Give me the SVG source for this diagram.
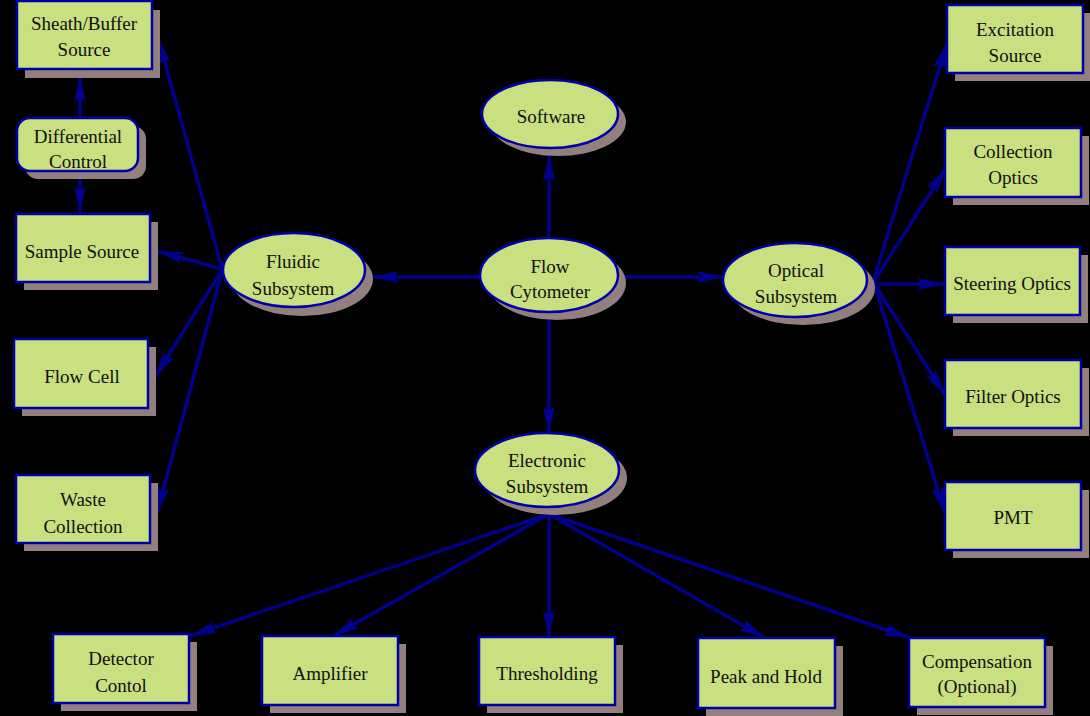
<svg xmlns="http://www.w3.org/2000/svg" width="1090" height="716" viewBox="0 0 1090 716">
<defs>
<style>
.bg{fill:#000}
.sh{fill:#947f7f}
.bx{fill:#c8e080;stroke:#0000a8;stroke-width:2.5}
.t{font-family:"Liberation Serif","Times New Roman",serif;font-size:19px;fill:#111;text-anchor:middle}
.e{stroke:#00008c;stroke-width:3.5;fill:none;marker-end:url(#ah)}
</style>
<marker id="ah" viewBox="0 0 26 13" refX="26" refY="6.5" markerWidth="26" markerHeight="13" markerUnits="userSpaceOnUse" orient="auto">
<path d="M0,0.5 L26,6.5 L0,12.5 L4,6.5 z" fill="#00008c"/>
</marker>
</defs>
<rect class="bg" x="0" y="0" width="1090" height="716"/>

<g id="edges">
<line class="e" x1="80" y1="118" x2="80" y2="76"/>
<line class="e" x1="80" y1="172" x2="80" y2="213"/>
<line class="e" x1="222" y1="268" x2="158" y2="38"/>
<line class="e" x1="222" y1="269" x2="157" y2="251"/>
<line class="e" x1="222" y1="270" x2="155" y2="377"/>
<line class="e" x1="222" y1="271" x2="157" y2="513"/>
<line class="e" x1="549" y1="238" x2="549" y2="155"/>
<line class="e" x1="480" y1="277" x2="372" y2="277"/>
<line class="e" x1="618" y1="277" x2="723" y2="277"/>
<line class="e" x1="549" y1="312" x2="549" y2="433"/>
<line class="e" x1="873" y1="282" x2="947" y2="43"/>
<line class="e" x1="873" y1="283" x2="946" y2="168"/>
<line class="e" x1="873" y1="284" x2="944" y2="284"/>
<line class="e" x1="875" y1="285" x2="945" y2="395"/>
<line class="e" x1="875" y1="286" x2="945" y2="513"/>
<line class="e" x1="549" y1="514" x2="190" y2="636"/>
<line class="e" x1="549" y1="514" x2="333" y2="636"/>
<line class="e" x1="549" y1="514" x2="549" y2="637"/>
<line class="e" x1="549" y1="514" x2="765" y2="638"/>
<line class="e" x1="549" y1="514" x2="910" y2="638"/>
</g>

<g id="sheath">
<rect class="sh" x="25" y="10" width="135" height="68"/>
<rect class="bx" x="17" y="1" width="135" height="68"/>
<text class="t" x="84" y="30">Sheath/Buffer</text>
<text class="t" x="84" y="56">Source</text>
</g>
<g id="differential">
<rect class="sh" x="25" y="126" width="121" height="53" rx="13"/>
<rect class="bx" x="17" y="118" width="121" height="53" rx="13"/>
<text class="t" x="78" y="143">Differential</text>
<text class="t" x="78" y="168">Control</text>
</g>
<g id="sample">
<rect class="sh" x="24" y="222" width="134" height="68"/>
<rect class="bx" x="16" y="214" width="134" height="68"/>
<text class="t" x="82" y="258">Sample Source</text>
</g>
<g id="flowcell">
<rect class="sh" x="22" y="347" width="134" height="69"/>
<rect class="bx" x="14" y="339" width="134" height="69"/>
<text class="t" x="82" y="383">Flow Cell</text>
</g>
<g id="waste">
<rect class="sh" x="24" y="483" width="134" height="68"/>
<rect class="bx" x="16" y="475" width="134" height="68"/>
<text class="t" x="83" y="506">Waste</text>
<text class="t" x="83" y="533">Collection</text>
</g>
<g id="fluidic">
<ellipse class="sh" cx="302" cy="279" rx="71" ry="37"/>
<ellipse class="bx" cx="294" cy="270" rx="71" ry="37"/>
<text class="t" x="293" y="268">Fluidic</text>
<text class="t" x="293" y="295">Subsystem</text>
</g>
<g id="software">
<ellipse class="sh" cx="558" cy="122" rx="68" ry="34"/>
<ellipse class="bx" cx="550" cy="114" rx="68" ry="34"/>
<text class="t" x="551" y="123">Software</text>
</g>
<g id="flow">
<ellipse class="sh" cx="557" cy="283" rx="69" ry="37"/>
<ellipse class="bx" cx="549" cy="275" rx="69" ry="37"/>
<text class="t" x="550" y="273">Flow</text>
<text class="t" x="550" y="298">Cytometer</text>
</g>
<g id="optical">
<ellipse class="sh" cx="803" cy="288" rx="72" ry="37"/>
<ellipse class="bx" cx="795" cy="280" rx="72" ry="37"/>
<text class="t" x="796" y="277">Optical</text>
<text class="t" x="796" y="303">Subsystem</text>
</g>
<g id="excitation">
<rect class="sh" x="955" y="13" width="136" height="68"/>
<rect class="bx" x="947" y="5" width="136" height="68"/>
<text class="t" x="1015" y="36">Excitation</text>
<text class="t" x="1015" y="62">Source</text>
</g>
<g id="collection">
<rect class="sh" x="953" y="136" width="136" height="69"/>
<rect class="bx" x="945" y="128" width="136" height="69"/>
<text class="t" x="1013" y="158">Collection</text>
<text class="t" x="1013" y="184">Optics</text>
</g>
<g id="steering">
<rect class="sh" x="953" y="255" width="135" height="68"/>
<rect class="bx" x="945" y="247" width="135" height="68"/>
<text class="t" x="1012" y="290">Steering Optics</text>
</g>
<g id="filter">
<rect class="sh" x="953" y="368" width="136" height="68"/>
<rect class="bx" x="945" y="360" width="136" height="68"/>
<text class="t" x="1013" y="403">Filter Optics</text>
</g>
<g id="pmt">
<rect class="sh" x="953" y="490" width="136" height="68"/>
<rect class="bx" x="945" y="482" width="136" height="68"/>
<text class="t" x="1013" y="524">PMT</text>
</g>
<g id="electronic">
<ellipse class="sh" cx="555" cy="478" rx="72" ry="37"/>
<ellipse class="bx" cx="547" cy="470" rx="72" ry="37"/>
<text class="t" x="547" y="467">Electronic</text>
<text class="t" x="547" y="493">Subsystem</text>
</g>
<g id="detector">
<rect class="sh" x="61" y="642" width="136" height="69"/>
<rect class="bx" x="53" y="634" width="136" height="69"/>
<text class="t" x="121" y="665">Detector</text>
<text class="t" x="121" y="692">Contol</text>
</g>
<g id="amplifier">
<rect class="sh" x="270" y="644" width="136" height="69"/>
<rect class="bx" x="262" y="636" width="136" height="69"/>
<text class="t" x="330" y="680">Amplifier</text>
</g>
<g id="thresholding">
<rect class="sh" x="487" y="645" width="136" height="68"/>
<rect class="bx" x="479" y="637" width="136" height="68"/>
<text class="t" x="547" y="680">Thresholding</text>
</g>
<g id="peak">
<rect class="sh" x="706" y="646" width="137" height="70"/>
<rect class="bx" x="698" y="638" width="137" height="70"/>
<text class="t" x="766" y="683">Peak and Hold</text>
</g>
<g id="compensation">
<rect class="sh" x="917" y="646" width="136" height="69"/>
<rect class="bx" x="909" y="638" width="136" height="69"/>
<text class="t" x="977" y="668">Compensation</text>
<text class="t" x="977" y="693">(Optional)</text>
</g>
</svg>
